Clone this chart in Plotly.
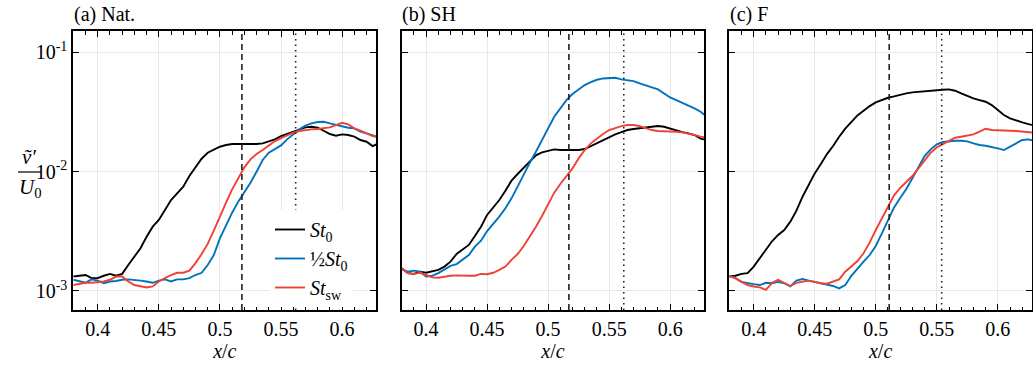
import plotly.graph_objects as go
from plotly.subplots import make_subplots

# streamwise position x/c (sampling points)
x_c = [0.380, 0.385, 0.390, 0.395, 0.400, 0.405, 0.410, 0.415, 0.420, 0.425,
       0.430, 0.435, 0.440, 0.445, 0.450, 0.455, 0.460, 0.465, 0.470, 0.475,
       0.480, 0.485, 0.490, 0.495, 0.500, 0.505, 0.510, 0.515, 0.520, 0.525,
       0.530, 0.535, 0.540, 0.545, 0.550, 0.555, 0.560, 0.565, 0.570, 0.575,
       0.580, 0.585, 0.590, 0.595, 0.600, 0.605, 0.610, 0.615, 0.620, 0.625, 0.630]

SCALE = 1e-3  # all series below are given in units of 1e-3

# (a) Nat.
nat_st0 = [1.32, 1.34, 1.36, 1.28, 1.28, 1.34, 1.39, 1.34, 1.39, 1.65,
           1.94, 2.28, 2.85, 3.46, 3.94, 4.77, 5.79, 6.58, 7.49, 9.20,
           11.01, 12.85, 14.43, 15.39, 16.20, 16.73, 17.05, 17.05, 17.05, 16.95,
           17.05, 17.28, 17.84, 18.67, 19.91, 20.69, 21.50, 22.63, 23.52, 23.83,
           23.37, 22.06, 20.69, 20.04, 20.55, 20.30, 19.66, 18.43, 17.84, 16.41, 17.28]
nat_half = [1.24, 1.20, 1.17, 1.25, 1.22, 1.16, 1.20, 1.21, 1.24, 1.25,
            1.24, 1.22, 1.20, 1.17, 1.22, 1.25, 1.20, 1.25, 1.25, 1.28,
            1.36, 1.42, 1.65, 2.00, 2.76, 3.57, 4.53, 5.61, 6.71, 8.09,
            10.0, 12.53, 14.43, 15.58, 16.62, 18.67, 20.69, 22.63, 24.30, 25.41,
            26.08, 26.24, 25.41, 24.61, 23.83, 23.37, 23.07, 21.64, 20.96, 20.04, 19.41]
nat_sw = [1.12, 1.14, 1.17, 1.17, 1.19, 1.20, 1.24, 1.32, 1.32, 1.20,
          1.12, 1.09, 1.07, 1.09, 1.20, 1.28, 1.36, 1.42, 1.42, 1.48,
          1.71, 2.04, 2.48, 3.20, 4.25, 5.50, 7.11, 8.68, 10.87, 12.69,
          14.06, 15.19, 16.52, 18.07, 19.15, 20.30, 21.23, 21.92, 22.35, 22.63,
          22.78, 23.07, 23.52, 24.61, 25.74, 24.93, 23.07, 22.06, 20.96, 19.91, 19.41]

# (b) SH
sh_st0 = [1.55, 1.41, 1.39, 1.45, 1.42, 1.45, 1.50, 1.60, 1.76, 2.04,
          2.21, 2.43, 2.89, 3.46, 4.34, 5.02, 5.79, 6.93, 8.41, 9.56,
          10.80, 12.28, 13.70, 14.52, 15.00, 15.39, 15.19, 15.19, 15.19, 15.19,
          15.49, 16.41, 17.28, 18.43, 19.41, 20.55, 21.50, 22.35, 22.78, 23.07,
          23.37, 23.67, 24.14, 23.83, 22.93, 22.20, 21.50, 20.96, 20.30, 18.91, 18.43]
sh_half = [1.52, 1.45, 1.48, 1.45, 1.32, 1.34, 1.41, 1.52, 1.62, 1.68,
           1.82, 2.00, 2.35, 2.64, 3.18, 3.64, 4.20, 4.93, 5.98, 7.49,
           9.56, 11.90, 14.71, 18.67, 23.07, 28.91, 33.94, 39.86, 44.77, 48.98,
           53.24, 56.42, 59.02, 60.55, 61.33, 61.33, 59.40, 58.64, 57.51, 54.99,
           53.24, 50.89, 48.98, 45.35, 41.97, 39.86, 37.87, 35.50, 33.94, 31.82, 28.91]
sh_sw = [1.55, 1.41, 1.39, 1.42, 1.36, 1.30, 1.29, 1.32, 1.34, 1.35,
         1.34, 1.34, 1.34, 1.39, 1.38, 1.42, 1.50, 1.60, 1.82, 2.04,
         2.38, 2.85, 3.46, 4.25, 5.26, 6.67, 7.88, 9.08, 10.66, 12.93,
         15.19, 17.28, 19.03, 20.69, 22.35, 23.37, 24.14, 24.61, 24.61, 24.14,
         23.07, 22.35, 21.92, 21.92, 21.92, 21.64, 21.36, 20.96, 20.30, 19.66, 19.28]

# (c) F
f_st0 = [1.32, 1.34, 1.39, 1.41, 1.60, 1.88, 2.23, 2.61, 2.95, 3.24,
         3.81, 4.71, 6.17, 7.83, 9.68, 11.60, 14.06, 16.41, 19.66, 22.93,
         26.24, 29.66, 32.44, 35.50, 38.11, 40.12, 41.70, 42.79, 44.19, 45.35,
         46.23, 46.83, 47.43, 47.74, 48.04, 48.66, 48.98, 47.74, 45.35, 43.07,
         41.17, 39.86, 38.61, 36.20, 32.86, 29.85, 27.99, 26.76, 25.91, 25.09, 24.45]
f_half = [1.34, 1.28, 1.19, 1.16, 1.14, 1.12, 1.17, 1.16, 1.19, 1.16,
          1.09, 1.22, 1.26, 1.22, 1.19, 1.16, 1.14, 1.10, 1.05, 1.12,
          1.34, 1.55, 1.76, 2.00, 2.38, 3.04, 3.89, 5.02, 6.02, 7.16,
          8.80, 11.01, 13.53, 15.39, 16.95, 17.73, 18.07, 18.19, 18.19, 17.96,
          17.28, 16.73, 16.52, 16.20, 15.69, 15.19, 16.20, 17.28, 18.43, 18.67, 18.19]
f_sw = [1.34, 1.28, 1.19, 1.12, 1.09, 1.07, 1.02, 1.17, 1.24, 1.17,
        1.10, 1.17, 1.20, 1.22, 1.19, 1.16, 1.15, 1.19, 1.25, 1.45,
        1.60, 1.78, 2.07, 2.54, 3.24, 4.06, 5.09, 6.34, 7.30, 8.19,
        9.20, 10.66, 12.53, 14.43, 15.99, 17.05, 18.19, 19.28, 19.66, 20.04,
        20.55, 21.64, 22.93, 22.35, 22.35, 22.35, 22.06, 21.92, 21.64, 21.50, 21.23]

panel_titles = ["(a) Nat.", "(b) SH", "(c) F"]
dashed_x = [0.518, 0.517, 0.511]
dotted_x = [0.562, 0.562, 0.554]
series_names = ["<i>St</i><sub>0</sub>", "½<i>St</i><sub>0</sub>", "<i>St</i><sub>sw</sub>"]
series_colors = ["#000000", "#0072BD", "#EF4136"]
panels = [[nat_st0, nat_half, nat_sw], [sh_st0, sh_half, sh_sw], [f_st0, f_half, f_sw]]
y_tickvals = [1e-3, 1e-2, 1e-1]
y_ticktext = ["10<sup>-3</sup>", "10<sup>-2</sup>", "10<sup>-1</sup>"]

W, H = 1033, 366
FONT = "'Liberation Serif', 'Times New Roman', Times, serif"

fig = make_subplots(rows=1, cols=3)

for p, series in enumerate(panels):
    for s, vals in enumerate(series):
        fig.add_trace(go.Scatter(
            x=x_c, y=[v * SCALE for v in vals], mode="lines",
            name=series_names[s], legendgroup=str(s), showlegend=(p == 0),
            line=dict(color=series_colors[s], width=1.9)),
            row=1, col=p + 1)
    fig.add_vline(x=dashed_x[p], row=1, col=p + 1,
                  line=dict(color="#222222", width=1.6, dash="6px,4px"))
    fig.add_vline(x=dotted_x[p], row=1, col=p + 1,
                  line=dict(color="#222222", width=1.6, dash="1.5px,4px"))

x_domains = [[73.3 / W, 376.3 / W], [401.7 / W, 704.3 / W], [729.3 / W, 1032 / W]]
y_domain = [(H - 310) / H, (H - 31) / H]

for i in range(3):
    fig.update_xaxes(
        row=1, col=i + 1, domain=x_domains[i], range=[0.38, 0.628],
        tick0=0, dtick=0.05, ticks="inside", ticklen=6, tickwidth=1.3,
        tickcolor="black", mirror="allticks", showline=True, linecolor="black",
        linewidth=2, showgrid=True, gridcolor="#e8e8e8", gridwidth=1,
        zeroline=False, tickfont=dict(family=FONT, size=20, color="black"),
        minor=dict(ticks="inside", dtick=0.01, tick0=0, ticklen=3.5, tickwidth=1,
                   tickcolor="black", showgrid=False),
        title=dict(text="<i>x</i>/<i>c</i>", standoff=2,
                   font=dict(family=FONT, size=20, color="black")))
    fig.update_yaxes(
        row=1, col=i + 1, domain=y_domain, type="log", range=[-3.16, -0.82],
        tickvals=y_tickvals, ticktext=y_ticktext, showticklabels=(i == 0),
        ticks="inside", ticklen=6, tickwidth=1.3, tickcolor="black",
        mirror="allticks", showline=True, linecolor="black", linewidth=2,
        showgrid=True, gridcolor="#e8e8e8", gridwidth=1, zeroline=False,
        tickfont=dict(family=FONT, size=20, color="black"))

annotations = []
title_x = [72, 400, 728]
for i, t in enumerate(panel_titles):
    annotations.append(dict(text=t, x=title_x[i] / W, y=1 - 14 / H, xref="paper",
                            yref="paper", xanchor="left", yanchor="middle",
                            showarrow=False,
                            font=dict(family=FONT, size=20, color="black")))
annotations.append(dict(text="<i>ṽ′</i>", x=29 / W, y=1 - 157 / H, xref="paper",
                        yref="paper", xanchor="center", yanchor="middle",
                        showarrow=False, font=dict(family=FONT, size=21, color="black")))
annotations.append(dict(text="<i>U</i><sub>0</sub>", x=30 / W, y=1 - 188 / H,
                        xref="paper", yref="paper", xanchor="center",
                        yanchor="middle", showarrow=False,
                        font=dict(family=FONT, size=21, color="black")))

fig.update_layout(
    width=W, height=H, margin=dict(l=0, r=0, t=0, b=0),
    paper_bgcolor="white", plot_bgcolor="white",
    font=dict(family=FONT, size=20, color="black"),
    annotations=annotations,
    legend=dict(x=270 / W, y=1 - 210 / H, xanchor="left", yanchor="top",
                bgcolor="white", borderwidth=0, itemwidth=30, tracegroupgap=0,
                font=dict(family=FONT, size=20, color="black")),
    showlegend=True,
)
fig.add_shape(type="line", xref="paper", yref="paper", x0=18 / W, x1=41 / W,
              y0=1 - 172 / H, y1=1 - 172 / H, line=dict(color="black", width=1.2))

fig.write_html("out.html", config={"displayModeBar": False},
               post_script="document.body.style.margin='0px';document.body.style.padding='0px';")
